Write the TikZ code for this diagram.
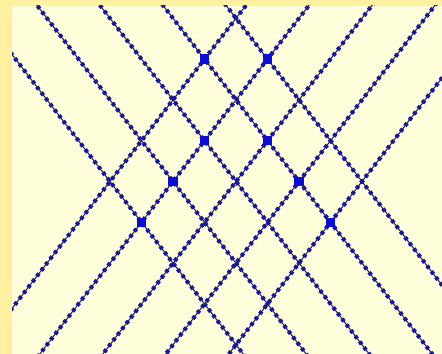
\documentclass[tikz,border=0pt]{standalone}
\usepackage{xcolor}
\usepackage{tikz}
\definecolor{rimyellow}{RGB}{255,241,160}
\definecolor{paperyellow}{RGB}{254,254,218}
\definecolor{wirenavy}{RGB}{36,36,96}
\definecolor{beadblue}{RGB}{22,22,160}
\definecolor{knotblue}{RGB}{12,12,215}

\begin{document}
\begin{tikzpicture}[x=0.02cm, y=-0.02cm,
  wire/.style={draw=wirenavy, line width=0.6pt},
  beads/.style={draw=beadblue, line width=2.3pt, dash pattern=on 2pt off 2.1pt},
  knot/.style={rectangle, fill=knotblue, minimum size=5.4pt, inner sep=0pt}]
  % background and frame
  \fill[rimyellow] (0,0) rectangle (442,354);
  \fill[paperyellow] (12,6) rectangle (442,354);
  \useasboundingbox (0,0) rectangle (442,354);
  % crossing (i,j) sits at (236+31.5i, 181.5+40.8j)
  \begin{scope}
    \clip (12,6) rectangle (442,354);
    \foreach \a in {-4,-2,0,2,4} {
      \coordinate (d\a s) at ({236+31.5*(\a/2-6)}, {181.5+40.8*(-\a/2-6)});
      \coordinate (d\a e) at ({236+31.5*(\a/2+6)}, {181.5+40.8*(-\a/2+6)});
      \coordinate (u\a s) at ({236+31.5*(\a/2-6)}, {181.5+40.8*(\a/2+6)});
      \coordinate (u\a e) at ({236+31.5*(\a/2+6)}, {181.5+40.8*(\a/2-6)});
      \draw[wire] (d\a s) -- (d\a e);
      \draw[wire] (u\a s) -- (u\a e);
      \draw[beads] (d\a s) -- (d\a e);
      \draw[beads] (u\a s) -- (u\a e);
    }
  \end{scope}
  % marked crossings
  \foreach \i/\j [count=\k] in {-1/-3, 1/-3, -1/-1, 1/-1, -2/0, 2/0, -3/1, 3/1}
    \node[knot] (k\k) at ({236+31.5*\i}, {181.5+40.8*\j}) {};
\end{tikzpicture}
\end{document}
